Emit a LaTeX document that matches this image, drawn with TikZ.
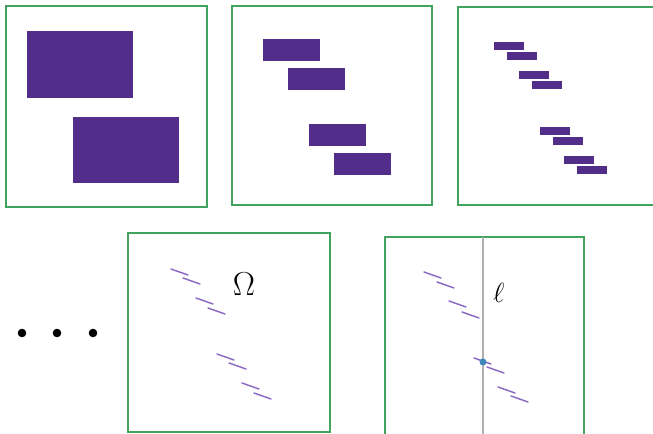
\documentclass[tikz,border=0pt]{standalone}
\usepackage{amsmath}
\usepackage{amssymb}
\usepackage{xcolor}
\usepackage{tikz}
\usetikzlibrary{positioning, calc}

\begin{document}
\begin{tikzpicture}[x=0.75pt, y=-0.75pt]
    % Colours
    \definecolor{boxgreen}{RGB}{64, 163, 94}
    \definecolor{blockpurple}{RGB}{82, 45, 137}
    \definecolor{slitpurple}{RGB}{140, 105, 195}
    \definecolor{linegray}{RGB}{175, 175, 175}
    \definecolor{dotblue}{RGB}{62, 135, 185}

    \tikzset{
        frame/.style={line width=1.5pt, draw=boxgreen},
        block/.style={fill=blockpurple},
        slit/.style={line width=1.1pt, draw=slitpurple, line cap=round}
    }

    \useasboundingbox (0,0) rectangle (653,434);

    % 1. Stage one: two big blocks
    \draw[frame] (6,6) rectangle (207,207);
    \fill[block] (27,31) rectangle (133,98);
    \fill[block] (73,117) rectangle (179,183);

    % 2. Stage two: four blocks
    \draw[frame] (232,6) rectangle (432,205);
    \foreach \x/\y in {263/39, 288/68, 309/124, 334/153} {
        \fill[block] (\x,\y) rectangle (\x+57,\y+22);
    }

    % 3. Stage three: eight thin blocks
    \draw[frame] (458,7) rectangle (660,205);
    \foreach \x/\y in {494/42, 507/52, 519/71, 532/81, 540/127, 553/137, 564/156, 577/166} {
        \fill[block] (\x,\y) rectangle (\x+30,\y+8);
    }

    % 4. Dots
    \foreach \x in {22,57,93} {
        \fill[black] (\x,333) circle (4.3);
    }

    % 5. Limit set Omega
    \draw[frame] (128,233) rectangle (330,432);
    \foreach \x/\y in {171/269, 183/278, 196/298, 208/308, 217/354, 229/363, 242/383, 254/393} {
        \draw[slit] (\x,\y) -- ++(17,6);
    }
    \node[font=\fontsize{24}{24}\selectfont] (omega) at (244,284) {$\Omega$};

    % 6. Limit set with the line ell
    \draw[frame] (385,237) rectangle (584,440);
    \coordinate (ltop) at (483,237);
    \coordinate (lbot) at (483,440);
    \draw[line width=1pt, linegray] (ltop) -- (lbot);
    \foreach \x/\y in {424/272, 437/282, 449/301, 462/312, 474/358, 487/367, 498/387, 511/396} {
        \draw[slit] (\x,\y) -- ++(17,6);
    }
    \fill[dotblue] (483,362) circle (3.5);
    \node[font=\fontsize{20}{20}\selectfont, right=4pt of ltop, yshift=-42pt] (ell) {$\ell$};

\end{tikzpicture}
\end{document}
